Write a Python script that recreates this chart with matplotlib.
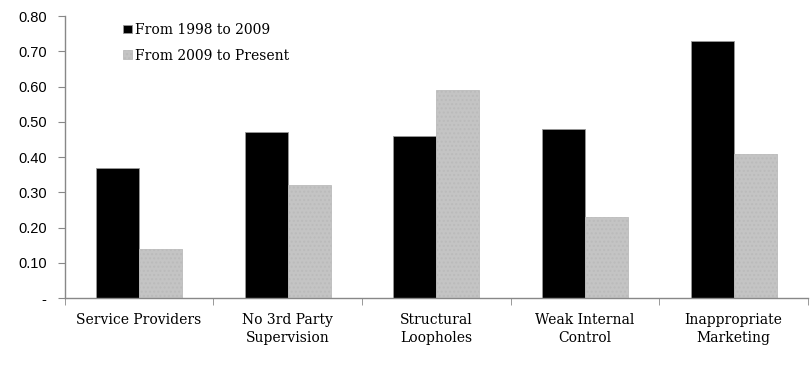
import numpy as np
import matplotlib.pyplot as plt
from matplotlib.ticker import FixedLocator, FuncFormatter

categories = ["Service Providers", "No 3rd Party\nSupervision", "Structural\nLoopholes",
              "Weak Internal\nControl", "Inappropriate\nMarketing"]
early = [0.37, 0.47, 0.46, 0.48, 0.73]
recent = [0.14, 0.32, 0.59, 0.23, 0.41]
series_names = ["From 1998 to 2009", "From 2009 to Present"]
yticks = [0, 0.1, 0.2, 0.3, 0.4, 0.5, 0.6, 0.7, 0.8]

serif = ['DejaVu Serif', 'Liberation Serif']
sans = ['Liberation Sans', 'DejaVu Sans']

plt.rcParams['hatch.color'] = '#b0b0b0'
fig = plt.figure(figsize=(8.1, 3.68), dpi=100)
ax = fig.add_axes([0.080, 0.190, 0.9175, 0.7665])

x = np.arange(len(categories))
w = 0.29
ax.bar(x - w / 2, early, w, color='black', edgecolor='#999999', linewidth=0.6,
       label=series_names[0])
ax.bar(x + w / 2, recent, w, color='#c4c4c4', edgecolor='#bbbbbb', linewidth=0.6,
       hatch='....', label=series_names[1])

ax.set_xlim(-0.5, len(categories) - 0.5)
ax.set_ylim(0, 0.8)
ax.set_yticks(yticks)
ax.yaxis.set_major_formatter(FuncFormatter(lambda v, p: '-' if v == 0 else f"{v:.2f}"))
ax.set_xticks(x)
ax.set_xticklabels(categories, family=serif, fontsize=10, linespacing=1.35)
ax.xaxis.set_minor_locator(FixedLocator(np.arange(-0.5, len(categories), 1.0)))
ax.tick_params(axis='x', which='major', length=0, pad=11)
ax.tick_params(axis='x', which='minor', length=5, color='#888888', direction='out')
ax.tick_params(axis='y', length=5, color='#888888', labelsize=10.5, pad=8)
for lbl in ax.get_yticklabels():
    lbl.set_family(sans)

for s in ['top', 'right']:
    ax.spines[s].set_visible(False)
for s in ['left', 'bottom']:
    ax.spines[s].set_color('#888888')
    ax.spines[s].set_linewidth(1.0)

ax.legend(loc='upper left', bbox_to_anchor=(0.062, 1.02), frameon=False,
          prop={'family': serif, 'size': 10}, handlelength=0.6, handleheight=0.6,
          handletextpad=0.25, labelspacing=0.85)

fig.savefig('out.png', dpi=100)
